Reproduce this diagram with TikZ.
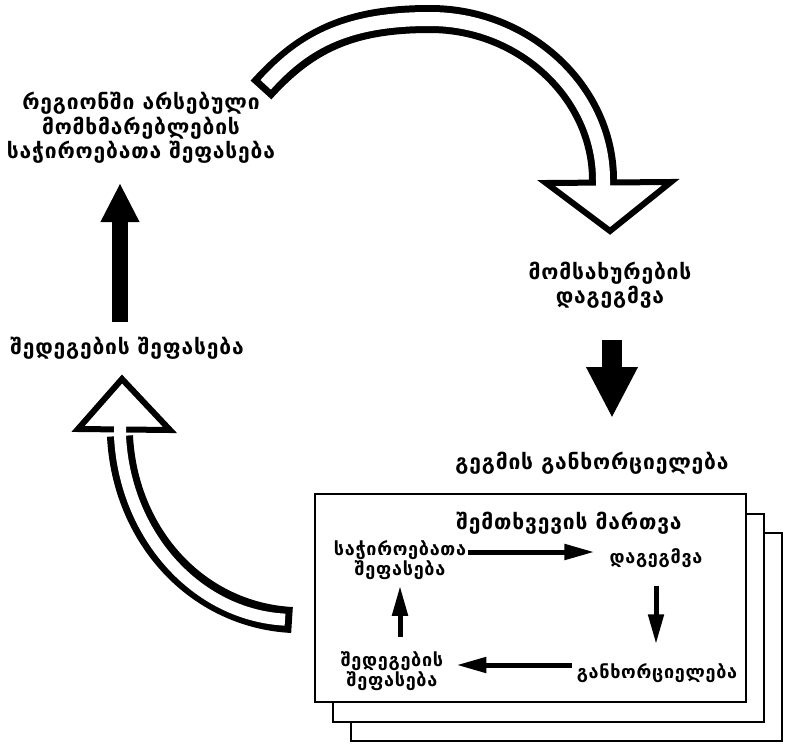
\documentclass[tikz,border=0pt]{standalone}
\usepackage{fontspec}
\setmainfont{DejaVu Sans}
\newfontfamily\geo[LetterSpace=4]{DejaVu Sans}
\usetikzlibrary{arrows.meta}

\tikzset{
  lbl/.style={font=\geo\bfseries\fontsize{21}{24.5}\selectfont, align=center, inner sep=0pt},
  small/.style={font=\geo\bfseries\fontsize{18}{19}\selectfont, align=center, inner sep=0pt},
  sheet/.style={draw, fill=white, line width=2pt, inner sep=0pt, minimum width=431pt, minimum height=208pt},
  thinarrow/.style={line width=5pt, -{Triangle[width=15pt,length=30pt]}},
  solidarrow/.style={line width=16pt, -{Triangle[width=36pt,length=39pt]}},
  fatarrow/.style={line width=20pt, -{Triangle[width=48pt,length=51pt]}},
  rim/.style={line width=6pt, line join=miter, fill=white},
}

\begin{document}
\begin{tikzpicture}[x=1pt,y=-1pt]
\useasboundingbox (0,0) rectangle (787,744);

% outer cycle labels
\node[lbl] (need) at (141,128) {რეგიონში არსებული\\მომხმარებლების\\საჭიროებათა შეფასება};
\node[lbl] (plan) at (610,285) {მომსახურების\\დაგეგმვა};
\node[lbl] (eval) at (127,348) {შედეგების შეფასება};
\node[lbl] (impl) at (592,463) {გეგმის განხორციელება};

% hollow arc: needs assessment -> service planning
\coordinate (ta) at (261,90);
\coordinate (tb) at (603,180);
\draw[line width=28pt] (ta) .. controls (306,40) and (350,19) .. (430,19) .. controls (525,19) and (603,93) .. (tb);
\draw[rim] (546,183) -- (671,182) -- (610,231) -- cycle;
\draw[white, line width=14pt, shorten <=7pt] (ta) .. controls (306,40) and (350,19) .. (430,19) .. controls (525,19) and (603,93) .. (tb) -- ++(0,16);

% solid arrow: service planning -> implementation
\coordinate (pa) at (612,340);
\coordinate (pb) at (612,418);
\draw[fatarrow] (pa) -- (pb);

% stacked sheets
\node[sheet] (s3) at (566.5,636.5) {};
\node[sheet] (s2) at (548.5,617.5) {};
\node[sheet] (s1) at (530,598) {};

% case management cycle
\node[lbl] (cm) at (569,523) {შემთხვევის მართვა};
\node[small] (ineed) at (400,560) {საჭიროებათა\\შეფასება};
\node[small] (iplan) at (656,558) {დაგეგმვა};
\node[small] (iimpl) at (657,673) {განხორციელება};
\node[small] (ieval) at (392,671.5) {შედეგების\\შეფასება};

\draw[thinarrow, shorten <=2pt, shorten >=15pt] ([yshift=8pt]ineed.east) -- ([yshift=8pt]ineed.east -| iplan.west);
\draw[thinarrow, shorten <=18pt, shorten >=19pt] (iplan.south) -- (iplan.south |- iimpl.north);
\draw[thinarrow, shorten <=5pt, shorten >=13pt] ([yshift=8pt]iimpl.west) -- ([yshift=8pt]iimpl.west -| ieval.east);
\draw[thinarrow, shorten <=15pt, shorten >=6pt] (ineed.south |- ieval.north) -- (ineed.south);

% hollow arc: implementation -> outcome evaluation
\coordinate (ba) at (292,620);
\coordinate (bb) at (120,436);
\draw[line width=26pt] (ba) .. controls (197,615) and (125,536) .. (bb);
\draw[rim] (78,429) -- (170,430) -- (122,379) -- cycle;
\draw[white, line width=12pt, shorten <=7pt] (ba) .. controls (197,615) and (125,536) .. (bb) -- ++(0,-14);

% solid arrow: outcome evaluation -> needs assessment
\coordinate (ea) at (120,322);
\coordinate (eb) at (120,183);
\draw[solidarrow] (ea) -- (eb);
\end{tikzpicture}
\end{document}
